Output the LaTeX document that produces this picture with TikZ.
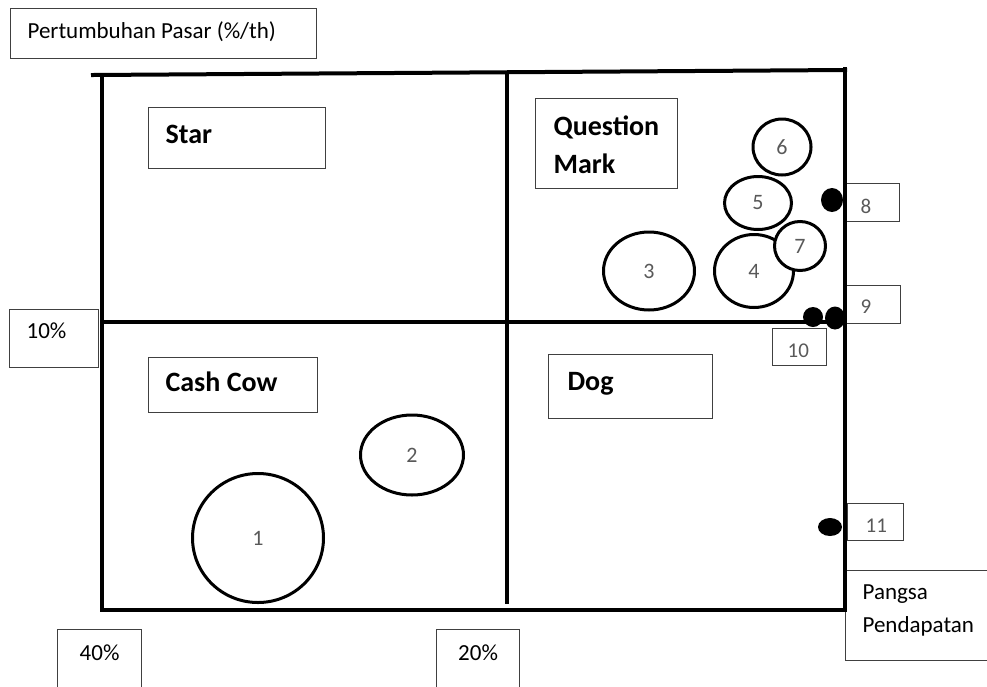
\documentclass[tikz,border=0pt]{standalone}
\usepackage{fontspec}
\setmainfont{Carlito}
\usepackage{tikz}
\usetikzlibrary{shapes.geometric}

\tikzset{
  garis/.style={line width=4pt, line cap=rect},
  kotak/.style={draw=black!75, line width=1.2pt, anchor=north west, inner ysep=0pt, align=flush left},
  kuadran/.style={kotak, font=\fontsize{28}{38}\selectfont\bfseries},
  keterangan/.style={kotak, font=\fontsize{23}{33}\selectfont},
  angka/.style={kotak, font=\fontsize{21}{24}\selectfont, text=black!65},
  lingkaran/.style={ellipse, draw, line width=3pt, fill=white, inner sep=0pt, font=\fontsize{22}{24}\selectfont, text=black!65},
  titik/.style={ellipse, fill=black, inner sep=0pt}
}

\begin{document}
\begin{tikzpicture}[x=1pt, y=-1pt]
  \useasboundingbox (0,0) rectangle (987,686);
  \clip (0,0) rectangle (987,686);
  \newcommand{\produk}[4]
  {%
    \node[lingkaran, minimum width=#3pt, minimum height=#4pt] (p#1) at #2 {#1};%
  }%
  % keterangan sumbu
  \node[keterangan, inner xsep=17pt, text width=272pt, text height=30pt, text depth=20pt] (judul) at (10,8) {Pertumbuhan Pasar (\%/th)};
  \node[keterangan, inner xsep=17pt, text width=55pt, text height=29pt, text depth=29pt] (batas10) at (9,309) {10\%};
  \node[keterangan, align=center, inner xsep=0pt, text width=84pt, text height=31pt, text depth=70pt] (batas40) at (57,629) {40\%};
  \node[keterangan, align=center, inner xsep=0pt, text width=83pt, text height=31pt, text depth=70pt] (batas20) at (436,629) {20\%};
  \node[keterangan, inner xsep=17pt, text width=200pt, text height=29pt, text depth=61pt] (pangsa) at (845,570) {Pangsa\\Pendapatan};
  % kuadran
  \node[kuadran, inner xsep=17pt, text width=143pt, text height=36pt, text depth=25pt] (star) at (148,107) {Star};
  \node[kuadran, inner xsep=18pt, text width=106pt, text height=37pt, text depth=53pt] (qmark) at (535,98) {Question\\Mark};
  \node[kuadran, inner xsep=17pt, text width=135pt, text height=34pt, text depth=21pt] (cashcow) at (148,357) {Cash Cow};
  \node[kuadran, inner xsep=19pt, text width=126pt, text height=36pt, text depth=28pt] (dog) at (548,354) {Dog};
  % nomor produk di tepi
  \node[angka, inner xsep=16pt, text width=23pt, text height=30pt, text depth=8pt] (ket8) at (844,183) {8};
  \node[angka, inner xsep=16pt, text width=24pt, text height=28pt, text depth=10pt] (ket9) at (844,285) {9};
  \node[angka, inner xsep=15pt, text width=24pt, text height=29pt, text depth=8pt] (ket10) at (772,328) {10};
  \node[angka, inner xsep=18pt, text width=20pt, text height=29pt, text depth=8pt] (ket11) at (847,503) {11};
  % matriks
  \draw[garis] (93,75) -- (845,70);
  \draw[garis] (102,75) -- (102,610) -- (845,610) -- (845,69);
  \draw[garis] (507,73) -- (507,602);
  \draw[garis] (102,322) -- (835,322);
  % produk
  \produk{1}{(258,538)}{131}{129}
  \produk{2}{(412,455)}{103}{80}
  \produk{3}{(649,271)}{91}{78}
  \produk{6}{(782,147)}{58}{56}
  \produk{5}{(758,203)}{67}{53}
  \produk{4}{(754,271)}{79}{73}
  \produk{7}{(800,246)}{51}{49}
  \node[titik, minimum width=22pt, minimum height=24pt] (titik8) at (832,200) {};
  \node[titik, minimum width=20pt, minimum height=20pt] (titik10) at (813,317) {};
  \node[titik, minimum width=20pt, minimum height=23pt] (titik9) at (835,318) {};
  \node[titik, minimum width=24pt, minimum height=18pt] (titik11) at (830,527) {};
\end{tikzpicture}
\end{document}
